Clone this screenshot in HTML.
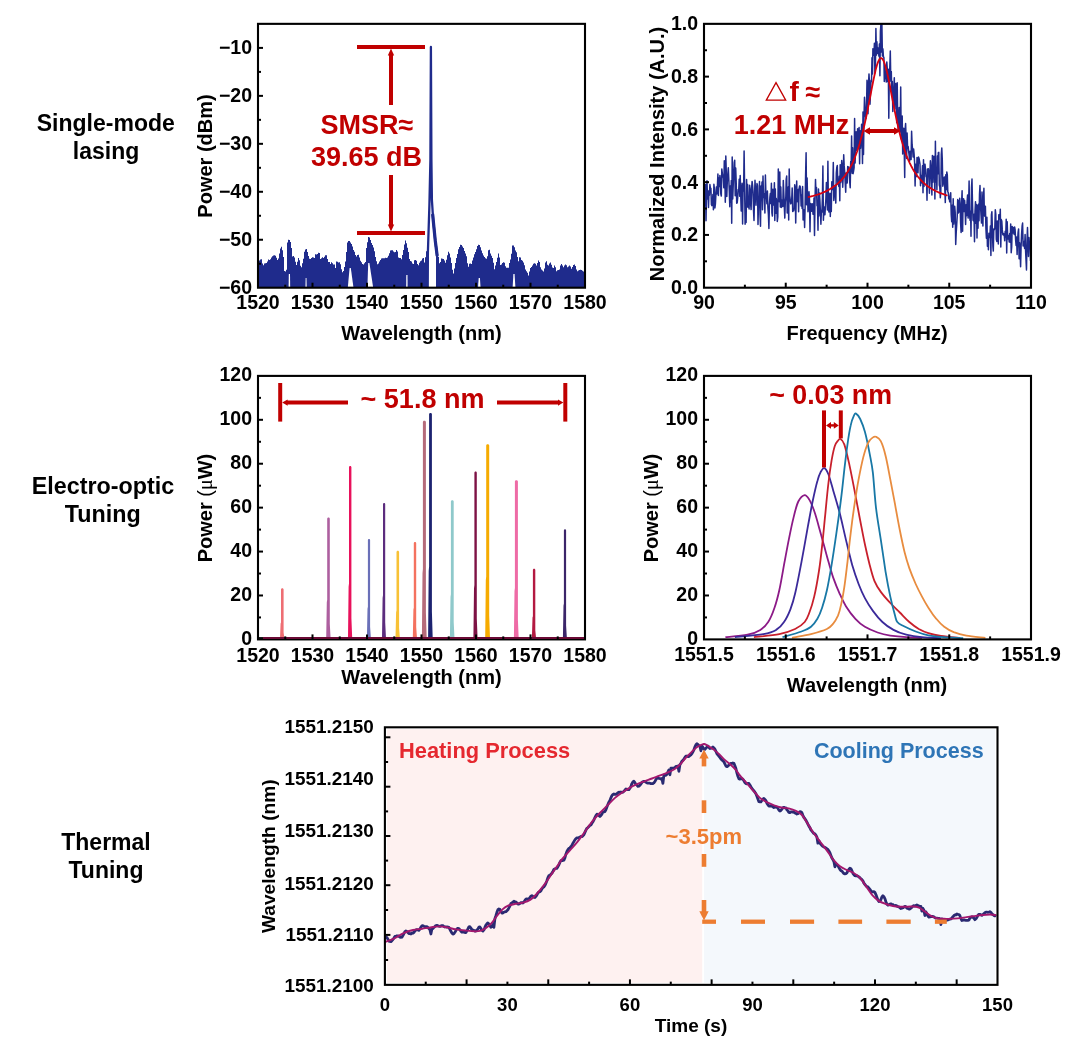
<!DOCTYPE html>
<html><head><meta charset="utf-8"><title>Figure</title>
<style>
html,body{margin:0;padding:0;background:#fff;}
body{width:1072px;height:1039px;overflow:hidden;font-family:"Liberation Sans", sans-serif;}
svg{display:block;font-family:"Liberation Sans", sans-serif;will-change:transform;}
</style></head><body>
<svg width="1072" height="1039" viewBox="0 0 1072 1039">
<text x="105.8" y="130.7" font-size="23" font-weight="bold" text-anchor="middle" fill="#000" >Single-mode</text>
<text x="106.0" y="158.8" font-size="23" font-weight="bold" text-anchor="middle" fill="#000" >lasing</text>
<text x="102.9" y="493.5" font-size="23.3" font-weight="bold" text-anchor="middle" fill="#000" >Electro-optic</text>
<text x="102.8" y="521.5" font-size="23.3" font-weight="bold" text-anchor="middle" fill="#000" >Tuning</text>
<text x="106.0" y="850.2" font-size="23" font-weight="bold" text-anchor="middle" fill="#000" >Thermal</text>
<text x="106.0" y="877.8" font-size="23" font-weight="bold" text-anchor="middle" fill="#000" >Tuning</text>
<polygon points="259.0,287.7 259.0,260.6 260.0,260.6 260.0,259.6 261.0,259.6 261.0,259.2 262.0,259.2 262.0,263.6 263.0,263.6 263.0,265.2 264.0,265.2 264.0,263.4 265.0,263.4 265.0,263.2 266.0,263.2 266.0,262.9 267.0,262.9 267.0,261.4 268.0,261.4 268.0,259.4 269.0,259.4 269.0,259.9 270.0,259.9 270.0,259.2 271.0,259.2 271.0,257.6 272.0,257.6 272.0,256.3 273.0,256.3 273.0,255.4 274.0,255.4 274.0,255.2 275.0,255.2 275.0,255.8 276.0,255.8 276.0,257.8 277.0,257.8 277.0,259.9 278.0,259.9 278.0,258.4 279.0,258.4 279.0,253.5 280.0,253.5 280.0,248.5 281.0,248.5 281.0,246.7 282.0,246.7 282.0,250.3 283.0,250.3 283.0,257.0 284.0,257.0 284.0,271.1 285.0,271.1 285.0,271.4 286.0,271.4 286.0,269.8 287.0,269.8 287.0,242.5 288.0,242.5 288.0,239.8 289.0,239.8 289.0,239.9 290.0,239.9 290.0,242.1 291.0,242.1 291.0,248.1 292.0,248.1 292.0,256.5 293.0,256.5 293.0,256.0 294.0,256.0 294.0,257.5 295.0,257.5 295.0,261.7 296.0,261.7 296.0,265.0 297.0,265.0 297.0,261.7 298.0,261.7 298.0,258.1 299.0,258.1 299.0,260.2 300.0,260.2 300.0,265.8 301.0,265.8 301.0,267.2 302.0,267.2 302.0,263.3 303.0,263.3 303.0,258.8 304.0,258.8 304.0,251.8 305.0,251.8 305.0,249.6 306.0,249.6 306.0,249.1 307.0,249.1 307.0,252.0 308.0,252.0 308.0,255.9 309.0,255.9 309.0,258.8 310.0,258.8 310.0,259.1 311.0,259.1 311.0,257.9 312.0,257.9 312.0,257.3 313.0,257.3 313.0,257.4 314.0,257.4 314.0,258.1 315.0,258.1 315.0,254.3 316.0,254.3 316.0,254.4 317.0,254.4 317.0,253.9 318.0,253.9 318.0,252.8 319.0,252.8 319.0,252.9 320.0,252.9 320.0,258.9 321.0,258.9 321.0,258.2 322.0,258.2 322.0,257.2 323.0,257.2 323.0,257.9 324.0,257.9 324.0,256.7 325.0,256.7 325.0,255.3 326.0,255.3 326.0,255.2 327.0,255.2 327.0,259.1 328.0,259.1 328.0,262.0 329.0,262.0 329.0,262.0 330.0,262.0 330.0,264.1 331.0,264.1 331.0,262.3 332.0,262.3 332.0,263.2 333.0,263.2 333.0,264.5 334.0,264.5 334.0,264.6 335.0,264.6 335.0,268.0 336.0,268.0 336.0,261.5 337.0,261.5 337.0,261.8 338.0,261.8 338.0,262.4 339.0,262.4 339.0,262.3 340.0,262.3 340.0,264.3 341.0,264.3 341.0,269.3 342.0,269.3 342.0,272.3 343.0,272.3 343.0,270.9 344.0,270.9 344.0,266.9 345.0,266.9 345.0,261.4 346.0,261.4 346.0,252.1 347.0,252.1 347.0,242.6 348.0,242.6 348.0,240.9 349.0,240.9 349.0,241.0 350.0,241.0 350.0,242.6 351.0,242.6 351.0,243.9 352.0,243.9 352.0,246.4 353.0,246.4 353.0,250.1 354.0,250.1 354.0,251.8 355.0,251.8 355.0,255.0 356.0,255.0 356.0,256.4 357.0,256.4 357.0,254.9 358.0,254.9 358.0,254.8 359.0,254.8 359.0,257.5 360.0,257.5 360.0,260.8 361.0,260.8 361.0,262.3 362.0,262.3 362.0,264.1 363.0,264.1 363.0,264.5 364.0,264.5 364.0,263.3 365.0,263.3 365.0,261.9 366.0,261.9 366.0,248.1 367.0,248.1 367.0,242.2 368.0,242.2 368.0,237.0 369.0,237.0 369.0,237.5 370.0,237.5 370.0,240.1 371.0,240.1 371.0,243.1 372.0,243.1 372.0,245.1 373.0,245.1 373.0,247.5 374.0,247.5 374.0,251.3 375.0,251.3 375.0,256.9 376.0,256.9 376.0,261.3 377.0,261.3 377.0,264.2 378.0,264.2 378.0,263.4 379.0,263.4 379.0,261.6 380.0,261.6 380.0,260.0 381.0,260.0 381.0,258.5 382.0,258.5 382.0,258.3 383.0,258.3 383.0,258.3 384.0,258.3 384.0,258.2 385.0,258.2 385.0,257.7 386.0,257.7 386.0,258.0 387.0,258.0 387.0,257.5 388.0,257.5 388.0,255.7 389.0,255.7 389.0,253.3 390.0,253.3 390.0,250.4 391.0,250.4 391.0,250.3 392.0,250.3 392.0,250.3 393.0,250.3 393.0,251.4 394.0,251.4 394.0,252.2 395.0,252.2 395.0,252.0 396.0,252.0 396.0,250.0 397.0,250.0 397.0,251.5 398.0,251.5 398.0,257.5 399.0,257.5 399.0,258.1 400.0,258.1 400.0,258.0 401.0,258.0 401.0,259.3 402.0,259.3 402.0,255.1 403.0,255.1 403.0,250.1 404.0,250.1 404.0,244.6 405.0,244.6 405.0,240.6 406.0,240.6 406.0,243.2 407.0,243.2 407.0,247.7 408.0,247.7 408.0,251.9 409.0,251.9 409.0,258.9 410.0,258.9 410.0,261.1 411.0,261.1 411.0,261.6 412.0,261.6 412.0,263.5 413.0,263.5 413.0,264.0 414.0,264.0 414.0,260.3 415.0,260.3 415.0,260.0 416.0,260.0 416.0,260.8 417.0,260.8 417.0,264.0 418.0,264.0 418.0,265.2 419.0,265.2 419.0,262.7 420.0,262.7 420.0,261.2 421.0,261.2 421.0,260.6 422.0,260.6 422.0,258.4 423.0,258.4 423.0,257.9 424.0,257.9 424.0,262.4 425.0,262.4 425.0,257.2 426.0,257.2 426.0,251.3 427.0,251.3 427.0,287.7 428.0,287.7 428.0,287.7 429.0,287.7 429.0,287.7 430.0,287.7 430.0,287.7 431.0,287.7 431.0,287.7 432.0,287.7 432.0,287.7 433.0,287.7 433.0,287.7 434.0,287.7 434.0,287.7 435.0,287.7 435.0,287.7 436.0,287.7 436.0,251.5 437.0,251.5 437.0,255.3 438.0,255.3 438.0,256.8 439.0,256.8 439.0,263.3 440.0,263.3 440.0,261.9 441.0,261.9 441.0,258.5 442.0,258.5 442.0,258.8 443.0,258.8 443.0,259.1 444.0,259.1 444.0,260.5 445.0,260.5 445.0,262.7 446.0,262.7 446.0,259.8 447.0,259.8 447.0,255.2 448.0,255.2 448.0,251.8 449.0,251.8 449.0,253.5 450.0,253.5 450.0,257.5 451.0,257.5 451.0,263.0 452.0,263.0 452.0,269.8 453.0,269.8 453.0,273.5 454.0,273.5 454.0,268.5 455.0,268.5 455.0,263.1 456.0,263.1 456.0,258.0 457.0,258.0 457.0,253.9 458.0,253.9 458.0,249.3 459.0,249.3 459.0,246.9 460.0,246.9 460.0,244.7 461.0,244.7 461.0,244.9 462.0,244.9 462.0,246.4 463.0,246.4 463.0,248.1 464.0,248.1 464.0,251.1 465.0,251.1 465.0,253.5 466.0,253.5 466.0,256.2 467.0,256.2 467.0,263.3 468.0,263.3 468.0,266.7 469.0,266.7 469.0,263.7 470.0,263.7 470.0,263.4 471.0,263.4 471.0,263.9 472.0,263.9 472.0,260.6 473.0,260.6 473.0,257.4 474.0,257.4 474.0,254.2 475.0,254.2 475.0,252.0 476.0,252.0 476.0,249.2 477.0,249.2 477.0,246.0 478.0,246.0 478.0,244.8 479.0,244.8 479.0,244.9 480.0,244.9 480.0,247.2 481.0,247.2 481.0,250.5 482.0,250.5 482.0,253.3 483.0,253.3 483.0,255.5 484.0,255.5 484.0,257.1 485.0,257.1 485.0,258.3 486.0,258.3 486.0,258.7 487.0,258.7 487.0,256.2 488.0,256.2 488.0,250.2 489.0,250.2 489.0,249.8 490.0,249.8 490.0,253.4 491.0,253.4 491.0,255.8 492.0,255.8 492.0,258.0 493.0,258.0 493.0,262.8 494.0,262.8 494.0,269.2 495.0,269.2 495.0,265.6 496.0,265.6 496.0,262.1 497.0,262.1 497.0,257.8 498.0,257.8 498.0,253.5 499.0,253.5 499.0,257.4 500.0,257.4 500.0,265.1 501.0,265.1 501.0,264.5 502.0,264.5 502.0,263.0 503.0,263.0 503.0,262.3 504.0,262.3 504.0,262.8 505.0,262.8 505.0,266.2 506.0,266.2 506.0,267.7 507.0,267.7 507.0,267.7 508.0,267.7 508.0,267.8 509.0,267.8 509.0,262.9 510.0,262.9 510.0,259.5 511.0,259.5 511.0,253.7 512.0,253.7 512.0,245.5 513.0,245.5 513.0,245.6 514.0,245.6 514.0,247.2 515.0,247.2 515.0,250.5 516.0,250.5 516.0,252.2 517.0,252.2 517.0,256.9 518.0,256.9 518.0,261.3 519.0,261.3 519.0,257.3 520.0,257.3 520.0,257.6 521.0,257.6 521.0,260.0 522.0,260.0 522.0,260.7 523.0,260.7 523.0,262.6 524.0,262.6 524.0,265.3 525.0,265.3 525.0,269.4 526.0,269.4 526.0,271.2 527.0,271.2 527.0,272.8 528.0,272.8 528.0,275.5 529.0,275.5 529.0,271.6 530.0,271.6 530.0,268.0 531.0,268.0 531.0,267.0 532.0,267.0 532.0,265.6 533.0,265.6 533.0,263.7 534.0,263.7 534.0,263.3 535.0,263.3 535.0,263.7 536.0,263.7 536.0,265.6 537.0,265.6 537.0,263.0 538.0,263.0 538.0,260.6 539.0,260.6 539.0,261.9 540.0,261.9 540.0,267.2 541.0,267.2 541.0,269.4 542.0,269.4 542.0,270.5 543.0,270.5 543.0,271.4 544.0,271.4 544.0,268.4 545.0,268.4 545.0,262.6 546.0,262.6 546.0,261.3 547.0,261.3 547.0,264.8 548.0,264.8 548.0,265.6 549.0,265.6 549.0,263.5 550.0,263.5 550.0,262.5 551.0,262.5 551.0,264.7 552.0,264.7 552.0,267.4 553.0,267.4 553.0,267.9 554.0,267.9 554.0,265.5 555.0,265.5 555.0,267.3 556.0,267.3 556.0,271.3 557.0,271.3 557.0,270.3 558.0,270.3 558.0,270.0 559.0,270.0 559.0,269.4 560.0,269.4 560.0,265.4 561.0,265.4 561.0,264.0 562.0,264.0 562.0,265.4 563.0,265.4 563.0,267.3 564.0,267.3 564.0,265.4 565.0,265.4 565.0,264.5 566.0,264.5 566.0,265.2 567.0,265.2 567.0,267.2 568.0,267.2 568.0,266.5 569.0,266.5 569.0,265.5 570.0,265.5 570.0,266.6 571.0,266.6 571.0,268.8 572.0,268.8 572.0,266.9 573.0,266.9 573.0,265.1 574.0,265.1 574.0,264.6 575.0,264.6 575.0,266.0 576.0,266.0 576.0,269.6 577.0,269.6 577.0,271.3 578.0,271.3 578.0,270.4 579.0,270.4 579.0,270.0 580.0,270.0 580.0,269.7 581.0,269.7 581.0,270.0 582.0,270.0 582.0,270.7 583.0,270.7 583.0,271.6 584.0,271.6 584.0,287.7" fill="#1f2b8c" />
<polygon points="288.6,287.7 288.8,274.0 290.0,274.0 290.2,287.7" fill="#fff" />
<polygon points="305.2,287.7 305.5,278.0 306.7,278.0 307.0,287.7" fill="#b9bcd8" />
<polygon points="347.8,287.7 349.6,268.0 350.8,268.0 353.5,287.7" fill="#fff" />
<polygon points="367.4,287.7 368.2,263.0 369.4,263.0 373.2,287.7" fill="#fff" />
<polygon points="406.2,287.7 406.3,275.0 407.5,275.0 407.6,287.7" fill="#fff" />
<polygon points="478.0,287.7 478.7,278.0 479.9,278.0 480.6,287.7" fill="#fff" />
<polygon points="512.6,287.7 513.4,274.0 514.6,274.0 515.4,287.7" fill="#fff" />
<path d="M427.7,287 L427.9,252 L429.4,205 L430.4,160 L430.9,47 L431.4,160 L431.9,200 L433.2,220 L435.3,241 L437.2,256" fill="none" stroke="#1f2b8c" stroke-width="2.3" stroke-linejoin="round"/>
<path d="M432.6,214 L435.3,241 L437.2,256" fill="none" stroke="#1f2b8c" stroke-width="3.2" stroke-linejoin="round"/>
<rect x="258" y="23.85" width="327" height="263.84999999999997" fill="none" stroke="#000" stroke-width="2.1"/>
<line x1="258.00" y1="47.90" x2="263.00" y2="47.90" stroke="#000" stroke-width="2" />
<line x1="258.00" y1="95.86" x2="263.00" y2="95.86" stroke="#000" stroke-width="2" />
<line x1="258.00" y1="143.82" x2="263.00" y2="143.82" stroke="#000" stroke-width="2" />
<line x1="258.00" y1="191.78" x2="263.00" y2="191.78" stroke="#000" stroke-width="2" />
<line x1="258.00" y1="239.74" x2="263.00" y2="239.74" stroke="#000" stroke-width="2" />
<line x1="258.00" y1="71.88" x2="261.00" y2="71.88" stroke="#000" stroke-width="2" />
<line x1="258.00" y1="119.84" x2="261.00" y2="119.84" stroke="#000" stroke-width="2" />
<line x1="258.00" y1="167.80" x2="261.00" y2="167.80" stroke="#000" stroke-width="2" />
<line x1="258.00" y1="215.76" x2="261.00" y2="215.76" stroke="#000" stroke-width="2" />
<line x1="258.00" y1="263.72" x2="261.00" y2="263.72" stroke="#000" stroke-width="2" />
<line x1="312.50" y1="287.70" x2="312.50" y2="282.70" stroke="#000" stroke-width="2" />
<line x1="367.00" y1="287.70" x2="367.00" y2="282.70" stroke="#000" stroke-width="2" />
<line x1="421.50" y1="287.70" x2="421.50" y2="282.70" stroke="#000" stroke-width="2" />
<line x1="476.00" y1="287.70" x2="476.00" y2="282.70" stroke="#000" stroke-width="2" />
<line x1="530.50" y1="287.70" x2="530.50" y2="282.70" stroke="#000" stroke-width="2" />
<line x1="285.25" y1="287.70" x2="285.25" y2="284.70" stroke="#000" stroke-width="2" />
<line x1="339.75" y1="287.70" x2="339.75" y2="284.70" stroke="#000" stroke-width="2" />
<line x1="394.25" y1="287.70" x2="394.25" y2="284.70" stroke="#000" stroke-width="2" />
<line x1="448.75" y1="287.70" x2="448.75" y2="284.70" stroke="#000" stroke-width="2" />
<line x1="503.25" y1="287.70" x2="503.25" y2="284.70" stroke="#000" stroke-width="2" />
<line x1="557.75" y1="287.70" x2="557.75" y2="284.70" stroke="#000" stroke-width="2" />
<text x="252.0" y="54.3" font-size="19.5" font-weight="bold" text-anchor="end" fill="#000" >−10</text>
<text x="252.0" y="102.3" font-size="19.5" font-weight="bold" text-anchor="end" fill="#000" >−20</text>
<text x="252.0" y="150.2" font-size="19.5" font-weight="bold" text-anchor="end" fill="#000" >−30</text>
<text x="252.0" y="198.2" font-size="19.5" font-weight="bold" text-anchor="end" fill="#000" >−40</text>
<text x="252.0" y="246.1" font-size="19.5" font-weight="bold" text-anchor="end" fill="#000" >−50</text>
<text x="252.0" y="294.1" font-size="19.5" font-weight="bold" text-anchor="end" fill="#000" >−60</text>
<text x="258.0" y="308.6" font-size="19.5" font-weight="bold" text-anchor="middle" fill="#000" >1520</text>
<text x="312.5" y="308.6" font-size="19.5" font-weight="bold" text-anchor="middle" fill="#000" >1530</text>
<text x="367.0" y="308.6" font-size="19.5" font-weight="bold" text-anchor="middle" fill="#000" >1540</text>
<text x="421.5" y="308.6" font-size="19.5" font-weight="bold" text-anchor="middle" fill="#000" >1550</text>
<text x="476.0" y="308.6" font-size="19.5" font-weight="bold" text-anchor="middle" fill="#000" >1560</text>
<text x="530.5" y="308.6" font-size="19.5" font-weight="bold" text-anchor="middle" fill="#000" >1570</text>
<text x="585.0" y="308.6" font-size="19.5" font-weight="bold" text-anchor="middle" fill="#000" >1580</text>
<text x="421.5" y="339.5" font-size="20" font-weight="bold" text-anchor="middle" fill="#000" >Wavelength (nm)</text>
<text transform="translate(212.0,156.0) rotate(-90)" font-size="20" font-weight="bold" text-anchor="middle" fill="#000">Power (dBm)</text>
<line x1="357.00" y1="47.00" x2="425.00" y2="47.00" stroke="#c00000" stroke-width="4" />
<line x1="357.00" y1="233.00" x2="425.00" y2="233.00" stroke="#c00000" stroke-width="4" />
<line x1="391.00" y1="55.00" x2="391.00" y2="105.00" stroke="#c00000" stroke-width="4" />
<line x1="391.00" y1="175.00" x2="391.00" y2="225.00" stroke="#c00000" stroke-width="4" />
<polygon points="391.0,48.6 387.8,55.6 394.2,55.6" fill="#c00000" />
<polygon points="391.0,231.4 387.8,224.4 394.2,224.4" fill="#c00000" />
<text x="366.9" y="133.6" font-size="27" font-weight="bold" text-anchor="middle" fill="#c00000" >SMSR≈</text>
<text x="366.5" y="166.2" font-size="27" font-weight="bold" text-anchor="middle" fill="#c00000" >39.65 dB</text>
<polyline points="705.0,196.7 704.5,204.9 705.0,202.9 705.5,184.5 706.0,220.7 706.5,193.1 707.0,180.8 707.5,198.9 708.0,191.4 708.5,207.4 709.0,190.5 709.4,195.3 709.9,184.5 710.4,188.2 710.9,188.2 711.4,204.4 711.9,205.6 712.4,203.3 712.9,194.4 713.4,209.7 713.9,184.3 714.4,189.1 714.9,208.0 715.4,203.9 715.9,194.4 716.4,186.9 716.9,193.9 717.4,186.1 717.9,174.1 718.4,195.4 718.9,178.0 719.4,186.5 719.9,175.4 720.4,181.1 720.8,193.8 721.3,196.1 721.8,168.9 722.3,173.1 722.8,176.9 723.3,177.0 723.8,187.8 724.3,160.8 724.8,174.9 725.3,202.3 725.8,156.1 726.3,172.3 726.8,196.6 727.3,181.6 727.8,174.9 728.3,167.7 728.8,179.3 729.3,191.3 729.8,206.7 730.3,186.1 730.8,202.2 731.3,180.5 731.7,223.2 732.2,156.9 732.7,198.9 733.2,185.9 733.7,173.4 734.2,162.3 734.7,160.2 735.2,195.8 735.7,168.1 736.2,182.4 736.7,203.3 737.2,202.7 737.7,197.7 738.2,189.5 738.7,190.6 739.2,179.3 739.7,196.3 740.2,175.5 740.7,194.6 741.2,210.9 741.7,190.6 742.1,183.2 742.6,224.1 743.1,184.2 743.6,190.9 744.1,150.9 744.6,186.4 745.1,224.2 745.6,216.5 746.1,222.5 746.6,179.6 747.1,207.0 747.6,184.4 748.1,207.0 748.6,205.5 749.1,208.9 749.6,185.2 750.1,189.5 750.6,203.6 751.1,209.6 751.6,188.4 752.1,181.4 752.6,185.8 753.0,191.6 753.5,209.7 754.0,220.4 754.5,197.0 755.0,180.2 755.5,190.4 756.0,205.2 756.5,190.1 757.0,183.6 757.5,185.5 758.0,224.6 758.5,202.9 759.0,202.4 759.5,181.6 760.0,213.6 760.5,226.2 761.0,186.1 761.5,193.6 762.0,182.1 762.5,209.8 763.0,176.1 763.5,197.5 764.0,193.4 764.4,197.3 764.9,212.9 765.4,175.0 765.9,194.6 766.4,195.3 766.9,203.7 767.4,191.0 767.9,207.7 768.4,214.3 768.9,228.4 769.4,205.1 769.9,197.2 770.4,193.4 770.9,203.6 771.4,183.2 771.9,212.8 772.4,216.1 772.9,189.3 773.4,204.9 773.9,205.0 774.4,182.7 774.8,220.5 775.3,189.1 775.8,213.3 776.3,198.5 776.8,202.8 777.3,221.5 777.8,216.8 778.3,169.1 778.8,193.6 779.3,201.7 779.8,172.1 780.3,207.1 780.8,186.9 781.3,207.4 781.8,200.1 782.3,204.1 782.8,206.5 783.3,180.4 783.8,193.4 784.3,206.5 784.8,218.1 785.3,201.8 785.8,197.4 786.2,179.0 786.7,176.0 787.2,213.1 787.7,212.5 788.2,186.9 788.7,219.9 789.2,168.9 789.7,195.3 790.2,199.6 790.7,203.8 791.2,202.8 791.7,200.1 792.2,187.9 792.7,211.6 793.2,209.7 793.7,210.8 794.2,207.6 794.7,184.7 795.2,187.6 795.7,223.1 796.2,198.3 796.7,181.1 797.1,201.3 797.6,201.7 798.1,189.6 798.6,211.8 799.1,188.8 799.6,186.0 800.1,186.2 800.6,189.7 801.1,205.9 801.6,195.6 802.1,208.5 802.6,186.4 803.1,219.9 803.6,218.8 804.1,209.8 804.6,227.4 805.1,207.0 805.6,175.0 806.1,152.8 806.6,204.7 807.1,178.0 807.5,194.3 808.0,211.7 808.5,206.2 809.0,191.8 809.5,200.2 810.0,231.7 810.5,203.5 811.0,208.2 811.5,211.3 812.0,203.7 812.5,204.1 813.0,214.3 813.5,212.3 814.0,198.1 814.5,235.5 815.0,201.9 815.5,179.4 816.0,193.7 816.5,187.5 817.0,205.7 817.5,205.3 818.0,230.3 818.5,189.0 818.9,216.1 819.4,193.1 819.9,201.1 820.4,211.2 820.9,224.2 821.4,210.3 821.9,212.1 822.4,198.4 822.9,166.1 823.4,220.2 823.9,207.9 824.4,207.0 824.9,214.8 825.4,206.9 825.9,198.6 826.4,182.6 826.9,191.4 827.4,210.1 827.9,161.3 828.4,206.1 828.9,212.0 829.4,201.9 829.8,193.2 830.3,216.6 830.8,193.6 831.3,211.5 831.8,181.7 832.3,189.7 832.8,188.7 833.3,162.6 833.8,200.5 834.3,193.8 834.8,186.0 835.3,190.3 835.8,203.1 836.3,173.0 836.8,167.4 837.3,165.4 837.8,184.1 838.3,183.1 838.8,186.4 839.3,176.2 839.8,200.7 840.2,164.7 840.7,182.6 841.2,179.5 841.7,160.4 842.2,165.6 842.7,187.2 843.2,176.2 843.7,154.7 844.2,165.9 844.7,172.2 845.2,182.8 845.7,192.3 846.2,173.1 846.7,174.8 847.2,183.1 847.7,166.5 848.2,172.5 848.7,167.0 849.2,171.3 849.7,181.7 850.2,187.8 850.7,161.5 851.1,170.9 851.6,136.1 852.1,173.2 852.6,147.7 853.1,173.7 853.6,170.9 854.1,167.6 854.6,118.4 855.1,163.1 855.6,145.5 856.1,131.8 856.6,150.3 857.1,146.8 857.6,128.8 858.1,148.6 858.6,131.8 859.1,127.5 859.6,163.8 860.1,130.8 860.6,148.2 861.1,137.9 861.6,124.2 862.1,138.1 862.5,163.4 863.0,112.1 863.5,154.6 864.0,116.9 864.5,97.2 865.0,106.6 865.5,116.3 866.0,118.4 866.5,109.6 867.0,80.2 867.5,88.9 868.0,113.8 868.5,83.2 869.0,73.9 869.5,83.9 870.0,104.2 870.5,93.2 871.0,80.2 871.5,81.5 872.0,57.8 872.5,74.1 872.9,48.8 873.4,53.0 873.9,55.3 874.4,43.2 874.9,73.0 875.4,67.7 875.9,28.6 876.4,55.1 876.9,41.7 877.4,53.5 877.9,47.9 878.4,48.3 878.9,56.1 879.4,44.0 879.9,75.7 880.4,31.6 880.9,24.4 881.4,52.1 881.9,24.4 882.4,56.1 882.9,48.7 883.4,56.6 883.9,57.6 884.3,81.4 884.8,65.6 885.3,76.0 885.8,76.9 886.3,82.1 886.8,61.9 887.3,69.4 887.8,81.8 888.3,69.3 888.8,118.2 889.3,74.2 889.8,67.5 890.3,51.0 890.8,81.2 891.3,71.6 891.8,96.1 892.3,81.4 892.8,111.5 893.3,95.1 893.8,89.0 894.3,77.8 894.8,109.1 895.2,94.2 895.7,83.5 896.2,91.9 896.7,122.8 897.2,82.7 897.7,117.4 898.2,131.3 898.7,123.4 899.2,107.6 899.7,132.1 900.2,128.3 900.7,87.0 901.2,139.1 901.7,127.0 902.2,116.0 902.7,153.9 903.2,128.8 903.7,128.3 904.2,148.4 904.7,177.4 905.2,128.5 905.6,123.6 906.1,138.0 906.6,158.5 907.1,133.0 907.6,148.0 908.1,146.4 908.6,150.8 909.1,155.2 909.6,161.3 910.1,151.3 910.6,157.7 911.1,159.6 911.6,131.3 912.1,144.7 912.6,149.3 913.1,156.9 913.6,148.9 914.1,154.1 914.6,162.8 915.1,185.9 915.6,164.2 916.1,176.4 916.5,176.5 917.0,157.6 917.5,170.4 918.0,172.7 918.5,156.9 919.0,158.2 919.5,161.2 920.0,164.4 920.5,185.8 921.0,175.6 921.5,182.9 922.0,176.0 922.5,165.7 923.0,192.8 923.5,159.8 924.0,186.5 924.5,164.6 925.0,164.2 925.5,169.2 926.0,176.8 926.5,177.0 927.0,200.2 927.5,169.1 927.9,176.2 928.4,168.7 928.9,177.4 929.4,193.2 929.9,172.9 930.4,160.7 930.9,166.5 931.4,182.3 931.9,194.9 932.4,155.4 932.9,182.2 933.4,162.8 933.9,156.3 934.4,172.0 934.9,199.1 935.4,141.2 935.9,181.9 936.4,169.2 936.9,189.8 937.4,155.9 937.9,173.7 938.3,152.6 938.8,152.4 939.3,185.0 939.8,187.0 940.3,197.7 940.8,191.6 941.3,154.4 941.8,148.0 942.3,160.1 942.8,186.2 943.3,182.9 943.8,178.7 944.3,176.9 944.8,188.3 945.3,202.6 945.8,174.7 946.3,189.7 946.8,172.0 947.3,174.8 947.8,191.8 948.3,192.6 948.8,199.0 949.2,197.0 949.7,201.8 950.2,195.8 950.7,192.8 951.2,214.1 951.7,221.8 952.2,205.3 952.7,227.2 953.2,198.7 953.7,224.1 954.2,216.9 954.7,206.2 955.2,212.2 955.7,244.5 956.2,232.6 956.7,224.7 957.2,216.2 957.7,199.5 958.2,213.1 958.7,200.7 959.2,211.9 959.7,198.3 960.2,205.8 960.6,222.9 961.1,232.4 961.6,202.6 962.1,190.7 962.6,231.3 963.1,199.4 963.6,198.8 964.1,211.5 964.6,200.4 965.1,208.7 965.6,224.5 966.1,204.7 966.6,215.8 967.1,201.5 967.6,194.9 968.1,218.1 968.6,205.8 969.1,181.1 969.6,215.4 970.1,220.3 970.6,211.0 971.0,236.3 971.5,187.5 972.0,179.1 972.5,204.0 973.0,220.0 973.5,220.8 974.0,214.3 974.5,241.8 975.0,211.5 975.5,201.8 976.0,223.2 976.5,204.6 977.0,237.9 977.5,205.6 978.0,228.3 978.5,204.3 979.0,220.7 979.5,194.1 980.0,185.4 980.5,205.9 981.0,214.7 981.5,223.1 982.0,191.9 982.4,209.0 982.9,226.0 983.4,200.2 983.9,188.3 984.4,215.8 984.9,216.3 985.4,206.3 985.9,228.2 986.4,238.2 986.9,217.2 987.4,246.3 987.9,236.0 988.4,249.7 988.9,233.3 989.4,237.5 989.9,236.8 990.4,226.1 990.9,255.6 991.4,214.9 991.9,211.7 992.4,230.1 992.9,246.4 993.3,251.1 993.8,229.1 994.3,229.6 994.8,228.5 995.3,209.8 995.8,214.4 996.3,239.3 996.8,241.4 997.3,220.9 997.8,225.2 998.3,243.9 998.8,214.8 999.3,214.8 999.8,219.1 1000.3,209.3 1000.8,247.0 1001.3,219.6 1001.8,221.3 1002.3,229.9 1002.8,234.4 1003.3,235.0 1003.8,233.6 1004.2,234.7 1004.7,240.7 1005.2,231.2 1005.7,237.0 1006.2,219.3 1006.7,252.9 1007.2,221.7 1007.7,239.1 1008.2,236.2 1008.7,235.6 1009.2,242.0 1009.7,233.4 1010.2,242.3 1010.7,224.1 1011.2,252.8 1011.7,247.0 1012.2,226.4 1012.7,230.6 1013.2,233.1 1013.7,227.6 1014.2,234.5 1014.6,227.0 1015.1,229.6 1015.6,239.7 1016.1,245.5 1016.6,236.9 1017.1,254.5 1017.6,240.2 1018.1,232.4 1018.6,228.9 1019.1,258.8 1019.6,242.7 1020.1,250.3 1020.6,266.7 1021.1,246.0 1021.6,233.9 1022.1,226.2 1022.6,223.0 1023.1,246.0 1023.6,241.2 1024.1,243.5 1024.6,248.4 1025.1,234.5 1025.6,251.3 1026.0,259.8 1026.5,269.9 1027.0,240.6 1027.5,227.6 1028.0,243.7 1028.5,256.4 1029.0,237.5 1029.5,245.3 1030.0,241.7 1030.5,260.7 1031.0,249.4" fill="none" stroke="#1f2b8c" stroke-width="1.5" stroke-linejoin="round" stroke-linecap="round" />
<polyline points="808.6,197.0 809.3,196.9 810.0,196.7 810.7,196.5 811.4,196.4 812.1,196.2 812.8,196.0 813.5,195.8 814.2,195.6 814.9,195.4 815.5,195.2 816.2,195.0 816.9,194.8 817.6,194.5 818.3,194.3 819.0,194.1 819.7,193.8 820.4,193.6 821.1,193.3 821.8,193.0 822.5,192.8 823.1,192.5 823.8,192.2 824.5,191.9 825.2,191.6 825.9,191.2 826.6,190.9 827.3,190.6 828.0,190.2 828.7,189.8 829.4,189.4 830.1,189.0 830.7,188.6 831.4,188.2 832.1,187.8 832.8,187.3 833.5,186.8 834.2,186.3 834.9,185.8 835.6,185.3 836.3,184.8 837.0,184.2 837.7,183.6 838.3,183.0 839.0,182.3 839.7,181.7 840.4,181.0 841.1,180.3 841.8,179.5 842.5,178.7 843.2,177.9 843.9,177.1 844.6,176.2 845.3,175.3 845.9,174.3 846.6,173.3 847.3,172.3 848.0,171.2 848.7,170.1 849.4,168.9 850.1,167.7 850.8,166.4 851.5,165.0 852.2,163.6 852.9,162.1 853.5,160.6 854.2,159.0 854.9,157.3 855.6,155.5 856.3,153.7 857.0,151.8 857.7,149.7 858.4,147.6 859.1,145.4 859.8,143.2 860.4,140.8 861.1,138.3 861.8,135.7 862.5,133.0 863.2,130.2 863.9,127.3 864.6,124.3 865.3,121.1 866.0,117.9 866.7,114.6 867.4,111.2 868.0,107.8 868.7,104.3 869.4,100.7 870.1,97.1 870.8,93.5 871.5,89.8 872.2,86.3 872.9,82.8 873.6,79.4 874.3,76.1 875.0,73.0 875.6,70.1 876.3,67.4 877.0,65.0 877.7,62.9 878.4,61.2 879.1,59.8 879.8,58.9 880.5,58.3 881.2,58.2 881.9,58.4 882.6,59.1 883.2,60.2 883.9,61.7 884.6,63.5 885.3,65.7 886.0,68.2 886.7,70.9 887.4,73.9 888.1,77.0 888.8,80.4 889.5,83.8 890.2,87.3 890.8,90.9 891.5,94.5 892.2,98.1 892.9,101.7 893.6,105.3 894.3,108.8 895.0,112.3 895.7,115.6 896.4,118.9 897.1,122.1 897.8,125.2 898.4,128.1 899.1,131.0 899.8,133.8 900.5,136.5 901.2,139.0 901.9,141.5 902.6,143.8 903.3,146.1 904.0,148.3 904.7,150.3 905.4,152.3 906.0,154.2 906.7,156.1 907.4,157.8 908.1,159.5 908.8,161.0 909.5,162.6 910.2,164.0 910.9,165.4 911.6,166.8 912.3,168.0 912.9,169.2 913.6,170.4 914.3,171.5 915.0,172.6 915.7,173.6 916.4,174.6 917.1,175.6 917.8,176.5 918.5,177.3 919.2,178.2 919.9,179.0 920.5,179.7 921.2,180.5 921.9,181.2 922.6,181.9 923.3,182.5 924.0,183.2 924.7,183.8 925.4,184.4 926.1,184.9 926.8,185.5 927.5,186.0 928.1,186.5 928.8,187.0 929.5,187.4 930.2,187.9 930.9,188.3 931.6,188.8 932.3,189.2 933.0,189.6 933.7,189.9 934.4,190.3 935.1,190.7 935.7,191.0 936.4,191.3 937.1,191.7 937.8,192.0 938.5,192.3 939.2,192.6 939.9,192.9 940.6,193.1 941.3,193.4 942.0,193.7 942.7,193.9 943.3,194.1 944.0,194.4 944.7,194.6 945.4,194.8 946.1,195.1 946.8,195.3" fill="none" stroke="#d8000f" stroke-width="1.8" stroke-linejoin="round" stroke-linecap="round" />
<line x1="867.00" y1="131.00" x2="897.00" y2="131.00" stroke="#c00000" stroke-width="4" />
<polygon points="863.5,131.0 870.0,127.2 870.0,134.8" fill="#c00000" />
<polygon points="900.5,131.0 894.0,127.2 894.0,134.8" fill="#c00000" />
<polygon points="776,82.6 785.7,100.2 766.3,100.2" fill="none" stroke="#c00000" stroke-width="1.3"/>
<text x="794.2" y="100.6" font-size="28" font-weight="bold" text-anchor="middle" fill="#c00000" >f</text>
<text x="813.0" y="100.6" font-size="27" font-weight="bold" text-anchor="middle" fill="#c00000" >≈</text>
<text x="791.6" y="133.9" font-size="27" font-weight="bold" text-anchor="middle" fill="#c00000" >1.21 MHz</text>
<rect x="704" y="23.85" width="327" height="263.84999999999997" fill="none" stroke="#000" stroke-width="2.1"/>
<line x1="704.00" y1="234.93" x2="709.00" y2="234.93" stroke="#000" stroke-width="2" />
<line x1="704.00" y1="182.16" x2="709.00" y2="182.16" stroke="#000" stroke-width="2" />
<line x1="704.00" y1="129.39" x2="709.00" y2="129.39" stroke="#000" stroke-width="2" />
<line x1="704.00" y1="76.62" x2="709.00" y2="76.62" stroke="#000" stroke-width="2" />
<line x1="704.00" y1="261.31" x2="707.00" y2="261.31" stroke="#000" stroke-width="2" />
<line x1="704.00" y1="208.55" x2="707.00" y2="208.55" stroke="#000" stroke-width="2" />
<line x1="704.00" y1="155.78" x2="707.00" y2="155.78" stroke="#000" stroke-width="2" />
<line x1="704.00" y1="103.01" x2="707.00" y2="103.01" stroke="#000" stroke-width="2" />
<line x1="704.00" y1="50.24" x2="707.00" y2="50.24" stroke="#000" stroke-width="2" />
<line x1="785.75" y1="287.70" x2="785.75" y2="282.70" stroke="#000" stroke-width="2" />
<line x1="867.50" y1="287.70" x2="867.50" y2="282.70" stroke="#000" stroke-width="2" />
<line x1="949.25" y1="287.70" x2="949.25" y2="282.70" stroke="#000" stroke-width="2" />
<line x1="744.88" y1="287.70" x2="744.88" y2="284.70" stroke="#000" stroke-width="2" />
<line x1="826.62" y1="287.70" x2="826.62" y2="284.70" stroke="#000" stroke-width="2" />
<line x1="908.38" y1="287.70" x2="908.38" y2="284.70" stroke="#000" stroke-width="2" />
<line x1="990.12" y1="287.70" x2="990.12" y2="284.70" stroke="#000" stroke-width="2" />
<text x="698.0" y="294.1" font-size="19.5" font-weight="bold" text-anchor="end" fill="#000" >0.0</text>
<text x="698.0" y="241.3" font-size="19.5" font-weight="bold" text-anchor="end" fill="#000" >0.2</text>
<text x="698.0" y="188.6" font-size="19.5" font-weight="bold" text-anchor="end" fill="#000" >0.4</text>
<text x="698.0" y="135.8" font-size="19.5" font-weight="bold" text-anchor="end" fill="#000" >0.6</text>
<text x="698.0" y="83.0" font-size="19.5" font-weight="bold" text-anchor="end" fill="#000" >0.8</text>
<text x="698.0" y="30.3" font-size="19.5" font-weight="bold" text-anchor="end" fill="#000" >1.0</text>
<text x="704.0" y="308.6" font-size="19.5" font-weight="bold" text-anchor="middle" fill="#000" >90</text>
<text x="785.8" y="308.6" font-size="19.5" font-weight="bold" text-anchor="middle" fill="#000" >95</text>
<text x="867.5" y="308.6" font-size="19.5" font-weight="bold" text-anchor="middle" fill="#000" >100</text>
<text x="949.2" y="308.6" font-size="19.5" font-weight="bold" text-anchor="middle" fill="#000" >105</text>
<text x="1031.0" y="308.6" font-size="19.5" font-weight="bold" text-anchor="middle" fill="#000" >110</text>
<text x="867.0" y="339.5" font-size="20" font-weight="bold" text-anchor="middle" fill="#000" >Frequency (MHz)</text>
<text transform="translate(664.0,154.0) rotate(-90)" font-size="20" font-weight="bold" text-anchor="middle" fill="#000">Normalized Intensity (A.U.)</text>
<polygon points="280.0,638.6 280.6,623.5 281.0,622.5 281.0,589.3 281.7,588.3 282.9,588.3 283.6,589.3 283.6,632.6 284.4,638.6" fill="#ee6e73" />
<polygon points="326.2,638.6 326.8,602.3 327.2,599.8 327.2,518.4 327.9,517.4 329.1,517.4 329.8,518.4 329.8,624.1 330.6,638.6" fill="#ad5f9f" />
<polygon points="348.0,638.6 348.6,586.8 349.0,583.4 349.0,467.0 349.6,466.0 350.8,466.0 351.4,467.0 351.4,617.9 352.2,638.6" fill="#e8115b" />
<polygon points="366.9,638.6 367.5,608.7 367.9,606.7 367.9,540.0 368.4,539.0 369.6,539.0 370.1,540.0 370.1,626.7 370.9,638.6" fill="#6a70b8" />
<polygon points="382.0,638.6 382.6,597.9 383.0,595.2 383.0,504.1 383.6,503.1 384.7,503.1 385.2,504.1 385.2,622.3 386.0,638.6" fill="#5c2d7e" />
<polygon points="395.5,638.6 396.1,612.3 396.5,610.5 396.5,551.8 397.2,550.8 398.4,550.8 399.1,551.8 399.1,628.1 399.9,638.6" fill="#f8c136" />
<polygon points="412.8,638.6 413.4,609.6 413.8,607.7 413.8,543.1 414.4,542.1 415.6,542.1 416.2,543.1 416.2,627.0 417.0,638.6" fill="#f4725f" />
<polygon points="421.9,638.6 422.5,573.2 422.9,568.9 422.9,421.7 423.6,420.7 425.1,420.7 425.9,421.7 425.9,612.4 426.7,638.6" fill="#b56b7a" />
<polygon points="428.1,638.6 428.7,570.9 429.1,566.4 429.1,414.0 429.8,413.0 431.2,413.0 431.9,414.0 431.9,611.5 432.7,638.6" fill="#1c2370" />
<polygon points="449.9,638.6 450.5,597.1 450.9,594.3 450.9,501.2 451.6,500.2 453.0,500.2 453.7,501.2 453.7,622.0 454.5,638.6" fill="#8fc9cb" />
<polygon points="473.4,638.6 474.0,588.5 474.4,585.1 474.4,472.4 475.0,471.4 476.2,471.4 476.8,472.4 476.8,618.5 477.6,638.6" fill="#7d1245" />
<polygon points="485.2,638.6 485.8,580.3 486.2,576.4 486.2,445.2 486.9,444.2 488.4,444.2 489.2,445.2 489.2,615.3 490.0,638.6" fill="#f6ab00" />
<polygon points="513.9,638.6 514.5,591.1 514.9,587.9 514.9,481.2 515.6,480.2 517.1,480.2 517.9,481.2 517.9,619.6 518.7,638.6" fill="#ee6ba6" />
<polygon points="531.9,638.6 532.5,617.6 532.9,616.2 532.9,569.7 533.5,568.7 534.7,568.7 535.3,569.7 535.3,630.2 536.1,638.6" fill="#b31941" />
<polygon points="562.9,638.6 563.5,605.8 563.9,603.6 563.9,530.2 564.5,529.2 565.5,529.2 566.1,530.2 566.1,625.5 566.9,638.6" fill="#3b2569" />
<rect x="258" y="375.9" width="327" height="263.5" fill="none" stroke="#000" stroke-width="2.1"/>
<line x1="263.00" y1="638.00" x2="584.00" y2="638.00" stroke="#6b0a35" stroke-width="1.8" />
<line x1="258.00" y1="638.00" x2="263.00" y2="638.00" stroke="#000" stroke-width="1.8" />
<line x1="280.20" y1="383.00" x2="280.20" y2="421.60" stroke="#c00000" stroke-width="4" />
<line x1="565.30" y1="383.00" x2="565.30" y2="421.60" stroke="#c00000" stroke-width="4" />
<line x1="287.00" y1="402.60" x2="348.00" y2="402.60" stroke="#c00000" stroke-width="4" />
<line x1="497.00" y1="402.60" x2="559.00" y2="402.60" stroke="#c00000" stroke-width="4" />
<polygon points="282.2,402.6 287.6,399.4 287.6,405.8" fill="#c00000" />
<polygon points="563.4,402.6 558.0,399.4 558.0,405.8" fill="#c00000" />
<text x="422.5" y="408.0" font-size="27" font-weight="bold" text-anchor="middle" fill="#c00000" >~ 51.8 nm</text>
<line x1="258.00" y1="595.48" x2="263.00" y2="595.48" stroke="#000" stroke-width="2" />
<line x1="258.00" y1="551.56" x2="263.00" y2="551.56" stroke="#000" stroke-width="2" />
<line x1="258.00" y1="507.64" x2="263.00" y2="507.64" stroke="#000" stroke-width="2" />
<line x1="258.00" y1="463.72" x2="263.00" y2="463.72" stroke="#000" stroke-width="2" />
<line x1="258.00" y1="419.80" x2="263.00" y2="419.80" stroke="#000" stroke-width="2" />
<line x1="258.00" y1="617.44" x2="261.00" y2="617.44" stroke="#000" stroke-width="2" />
<line x1="258.00" y1="573.52" x2="261.00" y2="573.52" stroke="#000" stroke-width="2" />
<line x1="258.00" y1="529.60" x2="261.00" y2="529.60" stroke="#000" stroke-width="2" />
<line x1="258.00" y1="485.68" x2="261.00" y2="485.68" stroke="#000" stroke-width="2" />
<line x1="258.00" y1="441.76" x2="261.00" y2="441.76" stroke="#000" stroke-width="2" />
<line x1="258.00" y1="397.84" x2="261.00" y2="397.84" stroke="#000" stroke-width="2" />
<line x1="312.50" y1="639.40" x2="312.50" y2="634.40" stroke="#000" stroke-width="2" />
<line x1="367.00" y1="639.40" x2="367.00" y2="634.40" stroke="#000" stroke-width="2" />
<line x1="421.50" y1="639.40" x2="421.50" y2="634.40" stroke="#000" stroke-width="2" />
<line x1="476.00" y1="639.40" x2="476.00" y2="634.40" stroke="#000" stroke-width="2" />
<line x1="530.50" y1="639.40" x2="530.50" y2="634.40" stroke="#000" stroke-width="2" />
<line x1="285.25" y1="639.40" x2="285.25" y2="636.40" stroke="#000" stroke-width="2" />
<line x1="339.75" y1="639.40" x2="339.75" y2="636.40" stroke="#000" stroke-width="2" />
<line x1="394.25" y1="639.40" x2="394.25" y2="636.40" stroke="#000" stroke-width="2" />
<line x1="448.75" y1="639.40" x2="448.75" y2="636.40" stroke="#000" stroke-width="2" />
<line x1="503.25" y1="639.40" x2="503.25" y2="636.40" stroke="#000" stroke-width="2" />
<line x1="557.75" y1="639.40" x2="557.75" y2="636.40" stroke="#000" stroke-width="2" />
<text x="252.0" y="644.8" font-size="19.5" font-weight="bold" text-anchor="end" fill="#000" >0</text>
<text x="252.0" y="600.9" font-size="19.5" font-weight="bold" text-anchor="end" fill="#000" >20</text>
<text x="252.0" y="557.0" font-size="19.5" font-weight="bold" text-anchor="end" fill="#000" >40</text>
<text x="252.0" y="513.0" font-size="19.5" font-weight="bold" text-anchor="end" fill="#000" >60</text>
<text x="252.0" y="469.1" font-size="19.5" font-weight="bold" text-anchor="end" fill="#000" >80</text>
<text x="252.0" y="425.2" font-size="19.5" font-weight="bold" text-anchor="end" fill="#000" >100</text>
<text x="252.0" y="381.3" font-size="19.5" font-weight="bold" text-anchor="end" fill="#000" >120</text>
<text x="258.0" y="661.8" font-size="19.5" font-weight="bold" text-anchor="middle" fill="#000" >1520</text>
<text x="312.5" y="661.8" font-size="19.5" font-weight="bold" text-anchor="middle" fill="#000" >1530</text>
<text x="367.0" y="661.8" font-size="19.5" font-weight="bold" text-anchor="middle" fill="#000" >1540</text>
<text x="421.5" y="661.8" font-size="19.5" font-weight="bold" text-anchor="middle" fill="#000" >1550</text>
<text x="476.0" y="661.8" font-size="19.5" font-weight="bold" text-anchor="middle" fill="#000" >1560</text>
<text x="530.5" y="661.8" font-size="19.5" font-weight="bold" text-anchor="middle" fill="#000" >1570</text>
<text x="585.0" y="661.8" font-size="19.5" font-weight="bold" text-anchor="middle" fill="#000" >1580</text>
<text x="421.5" y="683.6" font-size="20" font-weight="bold" text-anchor="middle" fill="#000" >Wavelength (nm)</text>
<text transform="translate(212.0,508.0) rotate(-90)" font-size="20" font-weight="bold" text-anchor="middle" fill="#000">Power <tspan font-weight="normal">(</tspan><tspan font-family="Liberation Serif" font-weight="normal">μ</tspan>W)</text>
<path d="M725.4,637.2 C729.1,636.8 741.8,635.9 747.6,634.7 C753.4,633.5 756.8,632.1 760.3,629.9 C763.7,627.8 765.8,625.7 768.2,622.0 C770.6,618.3 772.7,613.0 774.5,607.7 C776.4,602.5 777.7,597.4 779.3,590.3 C780.9,583.2 782.5,573.4 784.0,564.9 C785.6,556.5 787.2,547.5 788.8,539.6 C790.4,531.6 792.0,523.7 793.6,517.4 C795.1,511.0 796.5,505.2 798.3,501.5 C800.2,497.8 802.8,495.4 804.7,495.1 C806.5,494.9 807.8,497.3 809.4,499.9 C811.0,502.5 812.6,506.5 814.2,511.0 C815.8,515.5 817.4,521.3 818.9,526.9 C820.5,532.4 822.1,538.5 823.7,544.3 C825.3,550.1 826.9,556.2 828.5,561.8 C830.0,567.3 831.4,572.3 833.2,577.6 C835.1,582.9 837.4,588.7 839.6,593.5 C841.7,598.2 843.3,601.9 845.9,606.2 C848.5,610.4 852.2,615.4 855.4,618.8 C858.6,622.3 861.2,624.5 864.9,626.8 C868.6,629.0 873.4,631.0 877.6,632.5 C881.8,634.0 885.5,634.9 890.3,635.7 C895.1,636.4 900.9,636.9 906.2,637.2 C911.4,637.6 919.4,637.8 922.0,637.9" fill="none" stroke="#8c1a87" stroke-width="1.8" stroke-linejoin="round"/>
<path d="M734.9,637.2 C739.6,636.7 756.6,635.3 763.4,634.1 C770.3,632.9 772.7,632.0 776.1,629.9 C779.6,627.9 781.7,625.5 784.0,622.0 C786.4,618.6 788.5,614.1 790.4,609.3 C792.2,604.6 793.3,601.4 795.1,593.5 C797.0,585.5 799.4,572.9 801.5,561.8 C803.6,550.7 806.0,536.9 807.8,526.9 C809.7,516.8 811.0,509.2 812.6,501.5 C814.2,493.8 816.0,485.7 817.4,480.9 C818.7,476.0 819.4,474.4 820.5,472.3 C821.7,470.2 823.0,467.8 824.3,468.2 C825.6,468.6 827.0,470.8 828.5,474.5 C829.9,478.2 831.4,484.0 833.2,490.4 C835.1,496.7 837.4,504.4 839.6,512.6 C841.7,520.8 843.8,530.8 845.9,539.6 C848.0,548.3 850.1,557.5 852.2,564.9 C854.4,572.3 856.5,578.4 858.6,584.0 C860.7,589.5 862.5,593.7 864.9,598.2 C867.3,602.7 869.9,606.9 872.9,610.9 C875.8,614.9 878.9,618.8 882.4,622.0 C885.8,625.2 889.5,627.8 893.5,629.9 C897.4,632.1 901.4,633.5 906.2,634.7 C910.9,635.9 916.2,636.7 922.0,637.2 C927.8,637.8 937.9,638.0 941.0,638.2" fill="none" stroke="#3b2a9a" stroke-width="1.8" stroke-linejoin="round"/>
<path d="M753.9,637.2 C758.1,636.7 772.4,635.4 779.3,634.1 C786.2,632.7 790.9,631.0 795.1,629.0 C799.4,627.0 802.3,624.8 804.7,622.0 C807.0,619.3 807.8,616.7 809.4,612.5 C811.0,608.3 812.6,603.5 814.2,596.6 C815.8,589.8 817.6,579.7 818.9,571.3 C820.3,562.8 821.1,555.4 822.1,545.9 C823.2,536.4 824.2,524.8 825.3,514.2 C826.3,503.6 827.4,491.4 828.5,482.5 C829.5,473.5 830.6,466.3 831.6,460.3 C832.7,454.2 833.7,449.3 834.8,446.0 C835.9,442.7 837.0,441.8 838.0,440.6 C838.9,439.4 839.4,438.4 840.5,439.0 C841.6,439.6 842.9,440.3 844.3,444.4 C845.7,448.5 847.2,455.0 849.1,463.4 C850.9,471.9 853.6,485.6 855.4,495.1 C857.3,504.7 858.6,512.3 860.2,520.5 C861.8,528.7 863.3,536.9 864.9,544.3 C866.5,551.7 868.1,558.8 869.7,564.9 C871.3,571.0 872.6,576.3 874.4,580.8 C876.3,585.3 878.1,588.2 880.8,591.9 C883.4,595.6 887.1,599.5 890.3,603.0 C893.5,606.4 896.6,609.3 899.8,612.5 C903.0,615.7 906.2,619.3 909.3,622.0 C912.5,624.8 915.7,627.1 918.8,629.0 C922.0,630.8 924.7,632.0 928.4,633.1 C932.1,634.3 935.8,635.2 941.0,636.0 C946.3,636.8 956.9,637.6 960.1,637.9" fill="none" stroke="#c8202c" stroke-width="1.8" stroke-linejoin="round"/>
<path d="M782.5,637.2 C785.6,636.3 796.7,633.3 801.5,631.5 C806.2,629.8 808.4,628.9 811.0,626.8 C813.7,624.7 815.5,622.0 817.4,618.8 C819.2,615.7 820.5,612.5 822.1,607.7 C823.7,603.0 825.3,597.4 826.9,590.3 C828.5,583.2 830.0,574.4 831.6,564.9 C833.2,555.4 834.8,544.3 836.4,533.2 C838.0,522.1 839.8,508.9 841.1,498.3 C842.5,487.7 843.3,478.8 844.3,469.8 C845.4,460.8 846.4,451.8 847.5,444.4 C848.5,437.0 849.6,430.1 850.7,425.4 C851.7,420.6 852.9,417.8 853.8,415.9 C854.7,413.9 855.0,413.1 856.0,413.6 C857.1,414.2 858.7,416.0 860.2,419.0 C861.6,422.0 863.3,425.9 864.9,431.7 C866.5,437.5 868.4,447.0 869.7,453.9 C871.0,460.8 871.8,464.0 872.9,472.9 C873.9,481.9 874.7,496.7 876.0,507.8 C877.3,518.9 879.2,529.0 880.8,539.6 C882.4,550.1 884.0,561.8 885.5,571.3 C887.1,580.8 888.7,589.2 890.3,596.6 C891.9,604.0 893.9,611.4 895.1,615.7 C896.2,619.9 896.0,620.3 897.3,622.0 C898.6,623.7 899.9,624.2 903.0,625.8 C906.1,627.4 911.4,629.9 915.7,631.5 C919.9,633.1 923.6,634.4 928.4,635.3 C933.1,636.3 938.4,636.8 944.2,637.2 C950.0,637.7 960.1,638.0 963.2,638.2" fill="none" stroke="#1878a6" stroke-width="1.8" stroke-linejoin="round"/>
<path d="M792.0,637.9 C795.1,637.2 805.2,635.5 811.0,634.1 C816.8,632.6 823.2,630.7 826.9,629.0 C830.6,627.2 831.4,625.8 833.2,623.6 C835.1,621.4 836.6,618.8 838.0,615.7 C839.3,612.5 840.1,609.3 841.1,604.6 C842.2,599.8 843.3,594.3 844.3,587.1 C845.4,580.0 846.4,570.7 847.5,561.8 C848.5,552.8 849.5,542.7 850.7,533.2 C851.8,523.7 853.1,513.7 854.5,504.7 C855.8,495.7 857.1,487.2 858.6,479.3 C860.1,471.4 861.8,463.2 863.3,457.1 C864.9,451.0 866.5,446.1 868.1,442.8 C869.7,439.5 871.5,438.4 872.9,437.4 C874.2,436.4 874.7,436.2 876.0,436.8 C877.3,437.4 879.2,438.1 880.8,441.2 C882.4,444.4 884.0,449.2 885.5,455.5 C887.1,461.8 888.7,471.1 890.3,479.3 C891.9,487.5 893.5,496.2 895.1,504.7 C896.6,513.1 898.2,522.1 899.8,530.0 C901.4,538.0 903.0,545.9 904.6,552.2 C906.2,558.6 907.5,562.8 909.3,568.1 C911.2,573.4 913.6,579.2 915.7,584.0 C917.8,588.7 919.9,592.7 922.0,596.6 C924.1,600.6 926.0,604.0 928.4,607.7 C930.7,611.4 933.6,615.7 936.3,618.8 C938.9,622.0 941.3,624.6 944.2,626.8 C947.1,629.0 950.0,630.7 953.7,632.2 C957.4,633.6 961.1,634.7 966.4,635.7 C971.7,636.6 982.3,637.5 985.4,637.9" fill="none" stroke="#e88c3f" stroke-width="1.8" stroke-linejoin="round"/>
<line x1="824.00" y1="410.40" x2="824.00" y2="467.50" stroke="#c00000" stroke-width="4" />
<line x1="840.80" y1="410.40" x2="840.80" y2="438.40" stroke="#c00000" stroke-width="4" />
<line x1="829.00" y1="425.40" x2="836.00" y2="425.40" stroke="#c00000" stroke-width="2.4" />
<polygon points="826.0,425.4 831.0,422.0 831.0,428.8" fill="#c00000" />
<polygon points="838.8,425.4 833.8,422.0 833.8,428.8" fill="#c00000" />
<text x="830.6" y="404.2" font-size="26.8" font-weight="bold" text-anchor="middle" fill="#c00000" >~ 0.03 nm</text>
<rect x="704" y="375.9" width="327" height="263.5" fill="none" stroke="#000" stroke-width="2.1"/>
<line x1="704.00" y1="595.48" x2="709.00" y2="595.48" stroke="#000" stroke-width="2" />
<line x1="704.00" y1="551.56" x2="709.00" y2="551.56" stroke="#000" stroke-width="2" />
<line x1="704.00" y1="507.64" x2="709.00" y2="507.64" stroke="#000" stroke-width="2" />
<line x1="704.00" y1="463.72" x2="709.00" y2="463.72" stroke="#000" stroke-width="2" />
<line x1="704.00" y1="419.80" x2="709.00" y2="419.80" stroke="#000" stroke-width="2" />
<line x1="704.00" y1="617.44" x2="707.00" y2="617.44" stroke="#000" stroke-width="2" />
<line x1="704.00" y1="573.52" x2="707.00" y2="573.52" stroke="#000" stroke-width="2" />
<line x1="704.00" y1="529.60" x2="707.00" y2="529.60" stroke="#000" stroke-width="2" />
<line x1="704.00" y1="485.68" x2="707.00" y2="485.68" stroke="#000" stroke-width="2" />
<line x1="704.00" y1="441.76" x2="707.00" y2="441.76" stroke="#000" stroke-width="2" />
<line x1="704.00" y1="397.84" x2="707.00" y2="397.84" stroke="#000" stroke-width="2" />
<line x1="785.75" y1="639.40" x2="785.75" y2="634.40" stroke="#000" stroke-width="2" />
<line x1="867.50" y1="639.40" x2="867.50" y2="634.40" stroke="#000" stroke-width="2" />
<line x1="949.25" y1="639.40" x2="949.25" y2="634.40" stroke="#000" stroke-width="2" />
<line x1="744.88" y1="639.40" x2="744.88" y2="636.40" stroke="#000" stroke-width="2" />
<line x1="826.62" y1="639.40" x2="826.62" y2="636.40" stroke="#000" stroke-width="2" />
<line x1="908.38" y1="639.40" x2="908.38" y2="636.40" stroke="#000" stroke-width="2" />
<line x1="990.12" y1="639.40" x2="990.12" y2="636.40" stroke="#000" stroke-width="2" />
<text x="698.0" y="644.8" font-size="19.5" font-weight="bold" text-anchor="end" fill="#000" >0</text>
<text x="698.0" y="600.9" font-size="19.5" font-weight="bold" text-anchor="end" fill="#000" >20</text>
<text x="698.0" y="557.0" font-size="19.5" font-weight="bold" text-anchor="end" fill="#000" >40</text>
<text x="698.0" y="513.0" font-size="19.5" font-weight="bold" text-anchor="end" fill="#000" >60</text>
<text x="698.0" y="469.1" font-size="19.5" font-weight="bold" text-anchor="end" fill="#000" >80</text>
<text x="698.0" y="425.2" font-size="19.5" font-weight="bold" text-anchor="end" fill="#000" >100</text>
<text x="698.0" y="381.3" font-size="19.5" font-weight="bold" text-anchor="end" fill="#000" >120</text>
<text x="704.0" y="661.0" font-size="19.5" font-weight="bold" text-anchor="middle" fill="#000" >1551.5</text>
<text x="785.8" y="661.0" font-size="19.5" font-weight="bold" text-anchor="middle" fill="#000" >1551.6</text>
<text x="867.5" y="661.0" font-size="19.5" font-weight="bold" text-anchor="middle" fill="#000" >1551.7</text>
<text x="949.2" y="661.0" font-size="19.5" font-weight="bold" text-anchor="middle" fill="#000" >1551.8</text>
<text x="1031.0" y="661.0" font-size="19.5" font-weight="bold" text-anchor="middle" fill="#000" >1551.9</text>
<text x="867.0" y="692.0" font-size="20" font-weight="bold" text-anchor="middle" fill="#000" >Wavelength (nm)</text>
<text transform="translate(658.0,508.0) rotate(-90)" font-size="20" font-weight="bold" text-anchor="middle" fill="#000">Power <tspan font-weight="normal">(</tspan><tspan font-family="Liberation Serif" font-weight="normal">μ</tspan>W)</text>
<rect x="387.0" y="729.1999999999999" width="315.20000000000005" height="253.55000000000007" fill="#fef1f0"/>
<rect x="704" y="729.1999999999999" width="291.1" height="253.55000000000007" fill="#f4f8fc"/>
<polyline points="385.9,937.5 386.9,937.4 387.9,939.2 388.9,941.1 389.9,941.5 390.9,941.7 391.9,940.7 392.9,939.5 393.9,938.1 394.9,936.5 395.9,936.4 396.9,935.8 397.9,935.8 398.9,936.4 399.9,937.1 400.9,937.3 401.9,937.2 402.9,935.6 403.9,933.6 404.9,931.6 405.9,931.0 406.9,931.5 407.9,932.5 408.9,933.6 409.9,933.7 410.9,934.0 411.9,932.9 412.9,933.3 413.9,932.4 414.9,930.9 415.9,929.9 416.9,929.7 417.9,930.0 418.9,930.3 419.9,929.1 420.9,927.1 421.9,925.9 422.9,925.6 423.9,926.2 424.9,926.6 425.9,927.0 426.9,926.7 427.9,927.4 428.9,928.5 429.9,929.6 430.9,934.0 431.9,929.0 432.9,928.5 433.9,927.4 434.9,926.5 435.9,925.5 436.9,925.3 437.9,925.7 438.9,926.1 439.9,926.4 440.9,925.9 441.9,925.6 442.9,925.7 443.9,926.5 444.9,927.0 445.9,926.8 446.9,927.1 447.9,927.0 448.9,927.3 449.9,929.3 450.9,931.3 451.9,933.0 452.9,934.1 453.9,933.7 454.9,932.3 455.9,930.6 456.9,928.9 457.9,928.3 458.9,928.5 459.9,929.9 460.9,931.2 461.9,932.1 462.9,932.2 463.9,932.2 464.9,932.5 465.9,932.6 466.9,930.8 467.9,928.9 468.9,926.9 469.9,926.7 470.9,928.1 471.9,929.6 472.9,930.2 473.9,930.4 474.9,931.0 475.9,931.1 476.9,930.1 477.9,928.9 478.9,927.1 479.9,926.9 480.9,928.5 481.9,930.4 482.9,931.0 483.9,929.9 484.9,927.4 485.9,925.1 486.9,923.8 487.9,922.9 488.9,923.9 489.9,925.6 490.9,927.2 491.9,926.5 492.9,924.5 493.9,927.4 494.9,918.7 495.9,915.7 496.9,912.3 497.9,909.7 498.9,909.0 499.9,909.4 500.9,911.3 501.9,913.0 502.9,913.0 503.9,912.2 504.9,911.8 505.9,911.7 506.9,910.7 507.9,909.7 508.9,907.9 509.9,906.0 510.9,903.5 511.9,903.0 512.9,902.1 513.9,901.3 514.9,901.9 515.9,901.9 516.9,903.0 517.9,904.1 518.9,904.0 519.9,903.5 520.9,902.7 521.9,902.6 522.9,903.0 523.9,902.0 524.9,900.4 525.9,899.2 526.9,898.9 527.9,899.1 528.9,898.9 529.9,897.5 530.9,896.2 531.9,895.6 532.9,896.3 533.9,897.1 534.9,897.5 535.9,896.4 536.9,894.9 537.9,893.0 538.9,891.8 539.9,891.8 540.9,890.7 541.9,888.9 542.9,887.5 543.9,886.8 544.9,885.5 545.9,883.3 546.9,880.8 547.9,877.7 548.9,875.7 549.9,875.4 550.9,874.3 551.9,873.3 552.9,871.5 553.9,869.5 554.9,868.8 555.9,868.5 556.9,868.3 557.9,866.7 558.9,864.8 559.9,862.4 560.9,860.6 561.9,860.4 562.9,860.5 563.9,860.2 564.9,857.9 565.9,854.2 566.9,851.5 567.9,849.7 568.9,848.5 569.9,847.8 570.9,846.7 571.9,845.2 572.9,843.3 573.9,841.6 574.9,839.9 575.9,838.7 576.9,837.8 577.9,837.9 578.9,837.6 579.9,837.1 580.9,836.5 581.9,836.6 582.9,835.8 583.9,834.8 584.9,832.4 585.9,830.1 586.9,828.3 587.9,827.6 588.9,826.6 589.9,825.4 590.9,825.0 591.9,823.3 592.9,821.8 593.9,819.8 594.9,817.6 595.9,815.6 596.9,814.2 597.9,814.5 598.9,815.7 599.9,816.5 600.9,815.5 601.9,814.1 602.9,812.2 603.9,811.8 604.9,811.6 605.9,809.8 606.9,807.1 607.9,804.6 608.9,802.1 609.9,800.4 610.9,797.8 611.9,795.6 612.9,794.5 613.9,794.0 614.9,794.4 615.9,794.3 616.9,793.7 617.9,792.7 618.9,792.2 619.9,792.3 620.9,792.0 621.9,792.3 622.9,792.2 623.9,791.3 624.9,790.1 625.9,789.0 626.9,789.2 627.9,789.7 628.9,789.7 629.9,788.3 630.9,786.3 631.9,783.6 632.9,781.9 633.9,781.2 634.9,782.6 635.9,784.4 636.9,785.1 637.9,786.3 638.9,786.2 639.9,785.3 640.9,784.0 641.9,782.4 642.9,781.7 643.9,781.3 644.9,781.4 645.9,782.3 646.9,782.8 647.9,783.1 648.9,783.2 649.9,783.2 650.9,783.6 651.9,783.6 652.9,783.5 653.9,782.9 654.9,781.5 655.9,779.6 656.9,778.2 657.9,777.6 658.9,778.3 659.9,778.5 660.9,779.1 661.9,778.5 662.9,783.4 663.9,775.2 664.9,775.3 665.9,775.3 666.9,774.2 667.9,772.0 668.9,770.0 669.9,774.8 670.9,768.2 671.9,768.1 672.9,768.1 673.9,768.1 674.9,767.6 675.9,766.4 676.9,766.4 677.9,766.0 678.9,771.3 679.9,764.8 680.9,763.1 681.9,761.3 682.9,760.4 683.9,759.0 684.9,757.4 685.9,756.2 686.9,756.0 687.9,756.6 688.9,756.6 689.9,755.6 690.9,754.9 691.9,753.7 692.9,751.8 693.9,749.8 694.9,746.9 695.9,744.8 696.9,743.8 697.9,744.4 698.9,745.6 699.9,746.1 700.9,750.8 701.9,745.8 702.9,747.3 703.9,749.2 704.9,749.4 705.9,748.2 706.9,747.1 707.9,746.0 708.9,747.4 709.9,748.5 710.9,748.3 711.9,747.9 712.9,747.0 713.9,748.0 714.9,749.2 715.9,751.3 716.9,753.6 717.9,755.0 718.9,756.1 719.9,757.5 720.9,758.9 721.9,760.0 722.9,760.7 723.9,761.8 724.9,763.9 725.9,766.0 726.9,766.7 727.9,766.1 728.9,765.0 729.9,764.3 730.9,763.4 731.9,763.5 732.9,763.0 733.9,763.3 734.9,765.7 735.9,768.5 736.9,772.9 737.9,776.3 738.9,778.7 739.9,779.2 740.9,778.5 741.9,778.7 742.9,779.3 743.9,780.7 744.9,782.5 745.9,783.6 746.9,783.8 747.9,783.4 748.9,783.5 749.9,785.0 750.9,786.8 751.9,788.4 752.9,789.6 753.9,790.9 754.9,792.2 755.9,793.8 756.9,796.3 757.9,799.1 758.9,801.7 759.9,801.9 760.9,801.8 761.9,800.5 762.9,799.2 763.9,798.4 764.9,799.4 765.9,800.6 766.9,803.2 767.9,804.9 768.9,806.0 769.9,806.0 770.9,806.0 771.9,806.1 772.9,806.8 773.9,807.5 774.9,807.3 775.9,806.9 776.9,807.1 777.9,808.4 778.9,810.1 779.9,811.0 780.9,810.5 781.9,809.2 782.9,807.8 783.9,807.3 784.9,807.9 785.9,808.0 786.9,809.8 787.9,810.9 788.9,812.4 789.9,812.7 790.9,811.9 791.9,811.8 792.9,812.1 793.9,812.1 794.9,813.0 795.9,813.3 796.9,814.0 797.9,813.7 798.9,812.9 799.9,811.6 800.9,811.9 801.9,812.7 802.9,815.3 803.9,817.5 804.9,818.7 805.9,820.3 806.9,822.1 807.9,824.2 808.9,826.1 809.9,827.6 810.9,829.9 811.9,831.1 812.9,832.3 813.9,833.5 814.9,833.8 815.9,835.2 816.9,837.1 817.9,843.2 818.9,840.7 819.9,843.1 820.9,844.4 821.9,845.5 822.9,846.4 823.9,847.0 824.9,847.4 825.9,848.0 826.9,848.8 827.9,849.4 828.9,851.0 829.9,852.8 830.9,855.4 831.9,858.0 832.9,859.6 833.9,861.6 834.9,866.8 835.9,863.6 836.9,864.8 837.9,865.7 838.9,867.6 839.9,869.3 840.9,870.6 841.9,871.0 842.9,872.3 843.9,873.5 844.9,873.9 845.9,873.7 846.9,872.9 847.9,870.9 848.9,869.4 849.9,868.2 850.9,868.7 851.9,870.6 852.9,873.4 853.9,874.7 854.9,875.6 855.9,875.8 856.9,875.7 857.9,876.2 858.9,877.0 859.9,877.7 860.9,878.7 861.9,879.6 862.9,880.8 863.9,883.1 864.9,884.5 865.9,885.7 866.9,886.6 867.9,886.9 868.9,888.1 869.9,889.4 870.9,890.9 871.9,891.6 872.9,892.0 873.9,891.6 874.9,892.4 875.9,894.6 876.9,897.2 877.9,899.9 878.9,901.6 879.9,901.0 880.9,899.6 881.9,896.9 882.9,895.8 883.9,896.8 884.9,898.6 885.9,901.7 886.9,904.0 887.9,905.2 888.9,904.8 889.9,904.2 890.9,903.9 891.9,904.3 892.9,904.6 893.9,905.5 894.9,905.6 895.9,905.5 896.9,906.0 897.9,906.7 898.9,906.8 899.9,907.9 900.9,908.5 901.9,908.2 902.9,907.8 903.9,907.1 904.9,906.3 905.9,906.8 906.9,908.1 907.9,908.5 908.9,909.0 909.9,909.0 910.9,908.2 911.9,907.3 912.9,906.0 913.9,905.7 914.9,906.2 915.9,905.5 916.9,904.9 917.9,905.4 918.9,905.9 919.9,906.5 920.9,906.4 921.9,911.2 922.9,908.4 923.9,910.2 924.9,915.5 925.9,911.9 926.9,913.7 927.9,916.0 928.9,917.2 929.9,917.0 930.9,916.6 931.9,916.4 932.9,916.5 933.9,916.9 934.9,917.6 935.9,918.2 936.9,918.2 937.9,918.4 938.9,918.3 939.9,918.7 940.9,924.6 941.9,918.8 942.9,919.5 943.9,919.8 944.9,920.2 945.9,920.4 946.9,920.2 947.9,919.9 948.9,919.5 949.9,919.2 950.9,919.0 951.9,917.9 952.9,916.8 953.9,915.6 954.9,914.8 955.9,915.0 956.9,914.0 957.9,914.4 958.9,914.6 959.9,915.6 960.9,918.6 961.9,920.5 962.9,920.1 963.9,919.8 964.9,920.1 965.9,920.3 966.9,920.4 967.9,920.4 968.9,920.0 969.9,918.1 970.9,917.4 971.9,916.8 972.9,917.2 973.9,918.3 974.9,919.7 975.9,918.8 976.9,917.5 977.9,915.4 978.9,914.3 979.9,914.3 980.9,914.7 981.9,915.3 982.9,914.5 983.9,913.7 984.9,912.7 985.9,912.1 986.9,912.2 987.9,912.3 988.9,912.2 989.9,911.6 990.9,912.3 991.9,913.7 992.9,914.6 993.9,915.4 994.9,915.9" fill="none" stroke="#2a2a72" stroke-width="2.8" stroke-linejoin="round" stroke-linecap="round" />
<path d="M385.0,942.1 C386.6,941.5 391.2,939.9 394.3,938.4 C397.4,936.9 400.6,934.5 403.7,933.1 C406.8,931.7 409.9,930.7 413.0,930.0 C416.1,929.3 419.2,929.2 422.3,928.7 C425.4,928.2 428.8,927.6 431.6,927.2 C434.4,926.8 436.6,926.4 439.1,926.4 C441.6,926.4 443.8,926.7 446.6,927.2 C449.4,927.7 452.8,928.9 455.9,929.4 C459.0,929.9 462.1,930.2 465.2,930.5 C468.3,930.8 472.1,931.2 474.6,931.3 C477.1,931.4 478.2,931.4 480.1,930.9 C482.0,930.4 483.8,929.4 485.7,928.1 C487.6,926.9 489.4,925.4 491.3,923.4 C493.2,921.4 495.0,918.3 496.9,916.0 C498.8,913.7 500.6,911.1 502.5,909.4 C504.4,907.7 505.9,906.6 508.1,905.7 C510.3,904.8 513.1,904.3 515.6,903.8 C518.1,903.3 520.6,903.3 523.1,902.6 C525.6,901.9 528.3,901.0 530.5,899.6 C532.7,898.2 534.2,896.4 536.1,894.5 C538.0,892.6 539.8,890.3 541.7,888.0 C543.6,885.7 545.4,883.1 547.3,880.5 C549.2,877.9 551.0,874.8 552.9,872.1 C554.8,869.4 556.9,866.6 558.5,864.4 C560.1,862.2 560.6,861.1 562.5,858.7 C564.4,856.4 567.4,853.1 569.9,850.3 C572.4,847.5 574.9,845.0 577.4,841.9 C579.9,838.8 582.4,835.1 584.9,831.7 C587.4,828.3 589.8,824.5 592.3,821.4 C594.8,818.3 597.3,815.6 599.8,813.0 C602.3,810.4 604.7,808.1 607.2,805.6 C609.7,803.1 612.2,800.3 614.7,798.1 C617.2,795.9 619.7,794.2 622.2,792.5 C624.7,790.8 627.1,789.2 629.6,787.8 C632.1,786.4 634.6,785.2 637.1,784.1 C639.6,783.0 642.1,782.2 644.6,781.3 C647.1,780.4 649.5,779.4 652.0,778.5 C654.5,777.6 657.0,776.6 659.5,775.7 C662.0,774.8 664.4,774.0 666.9,772.9 C669.4,771.8 672.2,770.6 674.4,769.2 C676.6,767.8 678.1,766.4 680.0,764.5 C681.9,762.6 683.7,760.0 685.6,758.0 C687.5,756.0 689.3,754.2 691.2,752.4 C693.1,750.6 694.9,748.5 696.8,747.2 C698.7,745.9 701.1,744.9 702.4,744.4 C703.6,743.9 703.4,743.8 704.3,744.0 C705.2,744.2 706.5,745.0 708.0,745.9 C709.5,746.8 711.7,748.2 713.6,749.6 C715.5,751.0 717.3,752.6 719.2,754.3 C721.1,756.0 722.9,758.2 724.8,759.9 C726.7,761.6 728.5,762.8 730.4,764.5 C732.3,766.2 734.5,768.3 736.0,770.1 C737.5,771.9 738.2,773.4 739.7,775.2 C741.2,777.1 742.9,778.8 745.0,781.2 C747.1,783.6 749.9,786.9 752.3,789.6 C754.7,792.3 757.2,795.5 759.6,797.6 C762.0,799.7 764.4,800.9 766.8,802.2 C769.2,803.5 771.7,804.4 774.1,805.3 C776.5,806.2 779.0,807.0 781.4,807.5 C783.8,808.0 786.3,807.8 788.7,808.4 C791.1,809.0 793.7,809.8 795.9,810.9 C798.1,812.0 800.2,813.1 802.0,815.0 C803.8,816.9 805.0,819.5 806.8,822.3 C808.6,825.1 810.7,828.8 812.9,832.0 C815.1,835.2 817.8,838.5 820.2,841.7 C822.6,844.9 825.3,848.4 827.5,851.4 C829.7,854.4 831.5,857.5 833.5,859.9 C835.5,862.3 837.4,864.3 839.6,866.0 C841.8,867.7 844.5,868.9 846.9,870.1 C849.3,871.3 851.9,871.9 854.1,873.2 C856.3,874.5 858.2,875.9 860.2,878.1 C862.2,880.3 864.3,883.8 866.3,886.6 C868.3,889.4 870.3,892.8 872.3,895.1 C874.3,897.4 876.2,899.1 878.4,900.6 C880.6,902.1 883.3,903.1 885.7,904.0 C888.1,904.9 890.6,905.5 893.0,906.0 C895.4,906.5 897.8,906.6 900.2,906.7 C902.6,906.8 905.1,906.7 907.5,906.7 C909.9,906.7 912.8,906.3 914.8,906.5 C916.8,906.7 918.0,907.1 919.6,907.9 C921.2,908.7 922.7,910.0 924.5,911.3 C926.3,912.6 928.5,914.6 930.5,915.7 C932.5,916.8 934.4,917.6 936.6,918.1 C938.8,918.6 941.1,918.7 943.9,918.8 C946.7,918.9 950.4,918.8 953.6,918.6 C956.8,918.4 960.1,918.0 963.3,917.6 C966.5,917.2 969.8,916.6 973.0,916.2 C976.2,915.8 979.9,915.3 982.7,915.0 C985.5,914.7 987.7,914.5 990.0,914.5 C992.3,914.5 995.4,915.1 996.5,915.2" fill="none" stroke="#a3186e" stroke-width="1.9"/>
<line x1="704.00" y1="756.00" x2="704.00" y2="766.40" stroke="#ed7d31" stroke-width="4.6" />
<line x1="704.00" y1="800.30" x2="704.00" y2="813.00" stroke="#ed7d31" stroke-width="4.6" />
<line x1="704.00" y1="854.00" x2="704.00" y2="866.80" stroke="#ed7d31" stroke-width="4.6" />
<line x1="704.00" y1="900.00" x2="704.00" y2="912.50" stroke="#ed7d31" stroke-width="4.6" />
<polygon points="704.0,749.4 699.3,758.5 708.7,758.5" fill="#ed7d31" />
<polygon points="704.0,920.4 699.3,911.3 708.7,911.3" fill="#ed7d31" />
<line x1="702.20" y1="921.70" x2="716.00" y2="921.70" stroke="#ed7d31" stroke-width="4.3" />
<line x1="741.00" y1="921.70" x2="765.00" y2="921.70" stroke="#ed7d31" stroke-width="4.3" />
<line x1="790.00" y1="921.70" x2="814.10" y2="921.70" stroke="#ed7d31" stroke-width="4.3" />
<line x1="838.40" y1="921.70" x2="862.10" y2="921.70" stroke="#ed7d31" stroke-width="4.3" />
<line x1="886.40" y1="921.70" x2="910.70" y2="921.70" stroke="#ed7d31" stroke-width="4.3" />
<line x1="934.90" y1="921.70" x2="946.80" y2="921.70" stroke="#ed7d31" stroke-width="4.3" />
<text x="703.8" y="843.8" font-size="22" font-weight="bold" text-anchor="middle" fill="#ed7d31" >~3.5pm</text>
<text x="399.0" y="757.5" font-size="21.85" font-weight="bold" text-anchor="start" fill="#e5282f" >Heating Process</text>
<text x="983.6" y="757.5" font-size="21.5" font-weight="bold" text-anchor="end" fill="#2e75b6" >Cooling Process</text>
<rect x="384.9" y="727.3" width="612.6" height="257.55000000000007" fill="none" stroke="#000" stroke-width="2.1"/>
<line x1="384.90" y1="934.90" x2="390.40" y2="934.90" stroke="#000" stroke-width="2" />
<line x1="384.90" y1="885.20" x2="390.40" y2="885.20" stroke="#000" stroke-width="2" />
<line x1="384.90" y1="836.00" x2="390.40" y2="836.00" stroke="#000" stroke-width="2" />
<line x1="384.90" y1="786.70" x2="390.40" y2="786.70" stroke="#000" stroke-width="2" />
<line x1="384.90" y1="737.30" x2="390.40" y2="737.30" stroke="#000" stroke-width="2" />
<line x1="384.90" y1="960.00" x2="388.10" y2="960.00" stroke="#000" stroke-width="2" />
<line x1="384.90" y1="910.00" x2="388.10" y2="910.00" stroke="#000" stroke-width="2" />
<line x1="384.90" y1="860.60" x2="388.10" y2="860.60" stroke="#000" stroke-width="2" />
<line x1="384.90" y1="811.40" x2="388.10" y2="811.40" stroke="#000" stroke-width="2" />
<line x1="384.90" y1="762.00" x2="388.10" y2="762.00" stroke="#000" stroke-width="2" />
<line x1="466.58" y1="984.85" x2="466.58" y2="979.35" stroke="#000" stroke-width="2" />
<line x1="548.26" y1="984.85" x2="548.26" y2="979.35" stroke="#000" stroke-width="2" />
<line x1="629.94" y1="984.85" x2="629.94" y2="979.35" stroke="#000" stroke-width="2" />
<line x1="711.62" y1="984.85" x2="711.62" y2="979.35" stroke="#000" stroke-width="2" />
<line x1="793.30" y1="984.85" x2="793.30" y2="979.35" stroke="#000" stroke-width="2" />
<line x1="874.98" y1="984.85" x2="874.98" y2="979.35" stroke="#000" stroke-width="2" />
<line x1="956.66" y1="984.85" x2="956.66" y2="979.35" stroke="#000" stroke-width="2" />
<line x1="425.74" y1="984.85" x2="425.74" y2="981.65" stroke="#000" stroke-width="2" />
<line x1="507.42" y1="984.85" x2="507.42" y2="981.65" stroke="#000" stroke-width="2" />
<line x1="589.10" y1="984.85" x2="589.10" y2="981.65" stroke="#000" stroke-width="2" />
<line x1="670.78" y1="984.85" x2="670.78" y2="981.65" stroke="#000" stroke-width="2" />
<line x1="752.46" y1="984.85" x2="752.46" y2="981.65" stroke="#000" stroke-width="2" />
<line x1="834.14" y1="984.85" x2="834.14" y2="981.65" stroke="#000" stroke-width="2" />
<line x1="915.82" y1="984.85" x2="915.82" y2="981.65" stroke="#000" stroke-width="2" />
<text x="373.8" y="732.7" font-size="18.9" font-weight="bold" text-anchor="end" fill="#000" >1551.2150</text>
<text x="373.8" y="785.0" font-size="18.9" font-weight="bold" text-anchor="end" fill="#000" >1551.2140</text>
<text x="373.8" y="837.3" font-size="18.9" font-weight="bold" text-anchor="end" fill="#000" >1551.2130</text>
<text x="373.8" y="889.5" font-size="18.9" font-weight="bold" text-anchor="end" fill="#000" >1551.2120</text>
<text x="373.8" y="941.2" font-size="18.9" font-weight="bold" text-anchor="end" fill="#000" >1551.2110</text>
<text x="373.8" y="991.9" font-size="18.9" font-weight="bold" text-anchor="end" fill="#000" >1551.2100</text>
<text x="384.9" y="1011.0" font-size="18.5" font-weight="bold" text-anchor="middle" fill="#000" >0</text>
<text x="507.4" y="1011.0" font-size="18.5" font-weight="bold" text-anchor="middle" fill="#000" >30</text>
<text x="629.9" y="1011.0" font-size="18.5" font-weight="bold" text-anchor="middle" fill="#000" >60</text>
<text x="752.5" y="1011.0" font-size="18.5" font-weight="bold" text-anchor="middle" fill="#000" >90</text>
<text x="875.0" y="1011.0" font-size="18.5" font-weight="bold" text-anchor="middle" fill="#000" >120</text>
<text x="997.5" y="1011.0" font-size="18.5" font-weight="bold" text-anchor="middle" fill="#000" >150</text>
<text x="691.0" y="1031.7" font-size="19" font-weight="bold" text-anchor="middle" fill="#000" >Time (s)</text>
<text transform="translate(274.6,856.2) rotate(-90)" font-size="19.2" font-weight="bold" text-anchor="middle" fill="#000">Wavelength (nm)</text>
</svg>
</body></html>
